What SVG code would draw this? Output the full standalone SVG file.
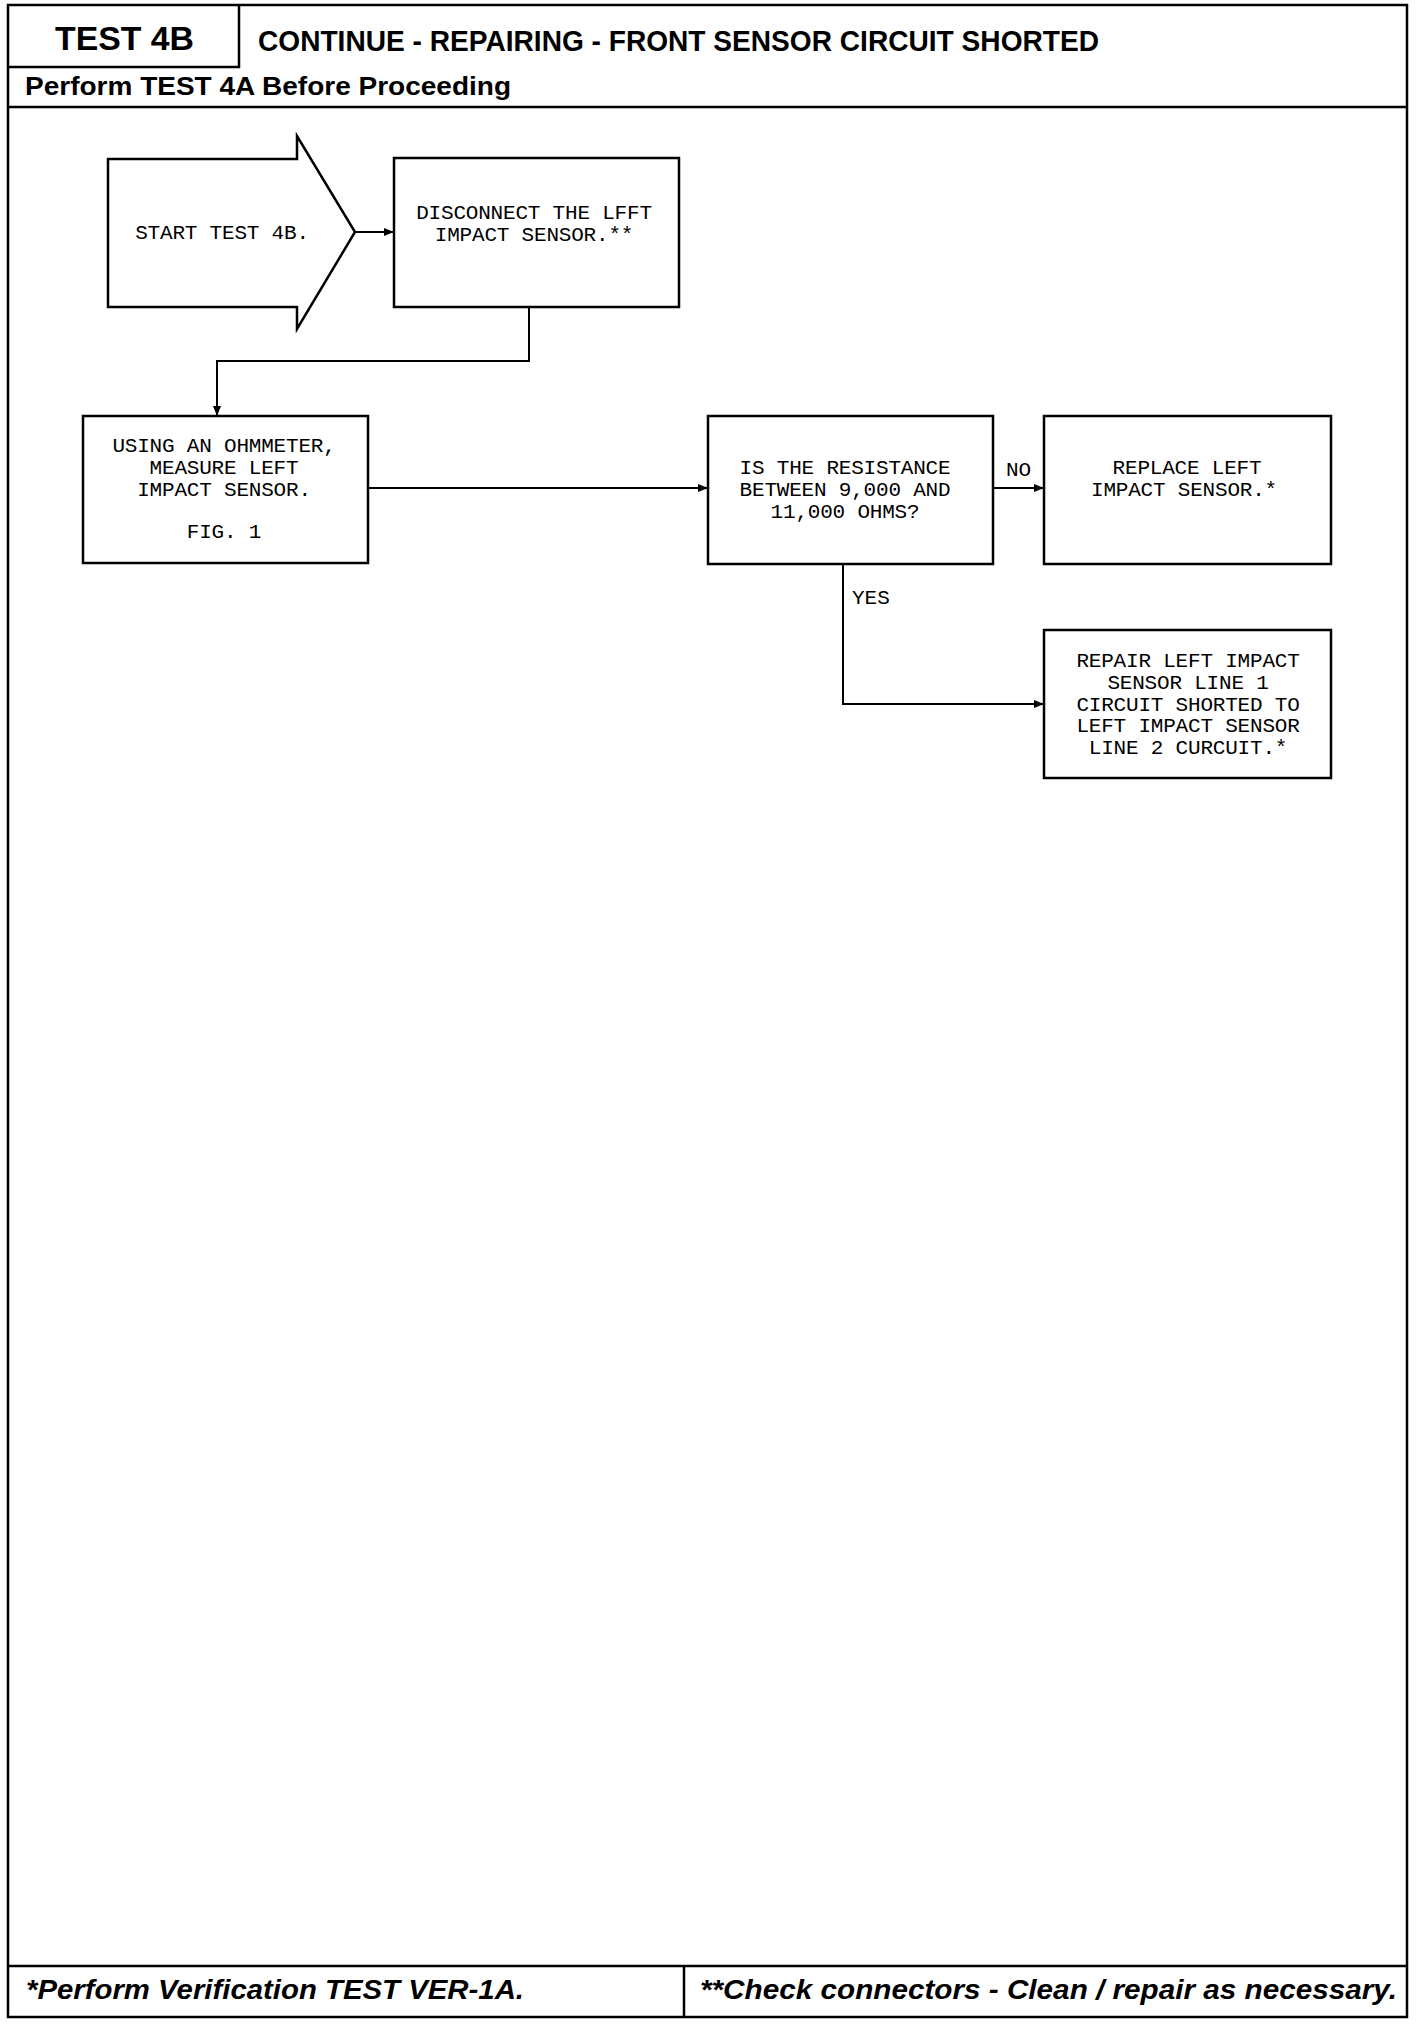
<svg xmlns="http://www.w3.org/2000/svg" width="1424" height="2024" viewBox="0 0 1424 2024">
<style>
.frame{fill:none;stroke:#000;stroke-width:2.5}
.box{fill:#fff;stroke:#000;stroke-width:2.5}
.hd{font-family:"Liberation Sans",Arial,sans-serif;font-weight:bold;fill:#000}
.ft{font-family:"Liberation Sans",Arial,sans-serif;font-weight:bold;font-style:italic;fill:#000}
.t{font-family:"Liberation Mono","DejaVu Sans Mono",monospace;font-size:21px;fill:#000;text-anchor:middle;letter-spacing:-0.2px}
.lbl{font-family:"Liberation Mono","DejaVu Sans Mono",monospace;font-size:21px;fill:#000}
.c{fill:none;stroke:#000;stroke-width:2}
</style>
<defs>
<marker id="ah" viewBox="0 0 10 10" refX="10" refY="5" markerWidth="10" markerHeight="10" markerUnits="userSpaceOnUse" orient="auto">
<path d="M0,1 L10,5 L0,9 Z" fill="#000"/>
</marker>
</defs>
<rect width="1424" height="2024" fill="#fff"/>
<g id="frame">
<rect class="frame" x="8" y="5" width="1399" height="2012"/>
<path class="frame" d="M239,5 V67 H8"/>
<path class="frame" d="M8,107 H1407"/>
<path class="frame" d="M8,1966 H1407 M684,1966 V2017"/>
<text class="hd" x="55" y="50" font-size="34" textLength="139" lengthAdjust="spacingAndGlyphs">TEST 4B</text>
<text class="hd" x="258" y="51" font-size="29" textLength="841" lengthAdjust="spacingAndGlyphs">CONTINUE - REPAIRING - FRONT SENSOR CIRCUIT SHORTED</text>
<text class="hd" x="25" y="95" font-size="26" textLength="486" lengthAdjust="spacingAndGlyphs">Perform TEST 4A Before Proceeding</text>
<text class="ft" x="26" y="1999" font-size="28" textLength="498" lengthAdjust="spacingAndGlyphs">*Perform Verification TEST VER-1A.</text>
<text class="ft" x="700" y="1999" font-size="28" textLength="697" lengthAdjust="spacingAndGlyphs">**Check connectors - Clean / repair as necessary.</text>
</g>
<g id="connectors">
<path class="c" d="M355,232 H394" marker-end="url(#ah)"/>
<path class="c" d="M529,307 V361 H217 V416" marker-end="url(#ah)"/>
<path class="c" d="M368,488 H708" marker-end="url(#ah)"/>
<path class="c" d="M993,488 H1044" marker-end="url(#ah)"/>
<path class="c" d="M843,564 V704 H1044" marker-end="url(#ah)"/>
<text class="lbl" x="1006" y="476">NO</text>
<text class="lbl" x="852" y="604">YES</text>
</g>
<g id="start">
<path class="box" d="M108,159 H297 V136 L355,232 L297,329 V307 H108 Z"/>
<text class="t" x="222" y="239">START TEST 4B.</text>
</g>
<g id="disconnect">
<rect class="box" x="394" y="158" width="285" height="149"/>
<text class="t" x="534" y="219">DISCONNECT THE LFFT</text>
<text class="t" x="534" y="241">IMPACT SENSOR.**</text>
</g>
<g id="measure">
<rect class="box" x="83" y="416" width="285" height="147"/>
<text class="t" x="224" y="452">USING AN OHMMETER,</text>
<text class="t" x="224" y="474">MEASURE LEFT</text>
<text class="t" x="224" y="496">IMPACT SENSOR.</text>
<text class="t" x="224" y="538">FIG. 1</text>
</g>
<g id="decision">
<rect class="box" x="708" y="416" width="285" height="148"/>
<text class="t" x="845" y="474">IS THE RESISTANCE</text>
<text class="t" x="845" y="496">BETWEEN 9,000 AND</text>
<text class="t" x="845" y="518">11,000 OHMS?</text>
</g>
<g id="replace">
<rect class="box" x="1044" y="416" width="287" height="148"/>
<text class="t" x="1187" y="474">REPLACE LEFT</text>
<text class="t" x="1184" y="496">IMPACT SENSOR.*</text>
</g>
<g id="repair">
<rect class="box" x="1044" y="630" width="287" height="148"/>
<text class="t" x="1188" y="667">REPAIR LEFT IMPACT</text>
<text class="t" x="1188" y="689">SENSOR LINE 1</text>
<text class="t" x="1188" y="711">CIRCUIT SHORTED TO</text>
<text class="t" x="1188" y="732">LEFT IMPACT SENSOR</text>
<text class="t" x="1188" y="754">LINE 2 CURCUIT.*</text>
</g>
</svg>
